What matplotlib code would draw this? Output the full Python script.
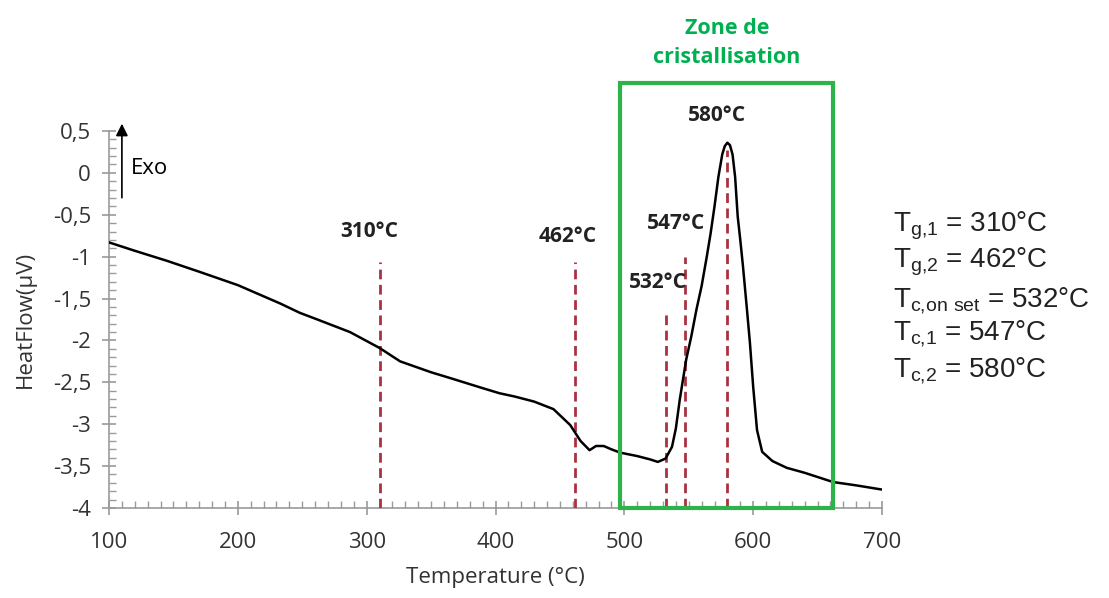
import matplotlib
matplotlib.use("Agg")
import matplotlib.pyplot as plt
from matplotlib.ticker import MultipleLocator, FuncFormatter
from matplotlib.patches import Rectangle

plt.rcParams['font.family'] = ['Open Sans', 'DejaVu Sans']
plt.rcParams['mathtext.default'] = 'regular'

# DSC curve
temp = [100, 120, 145, 170, 200, 209, 233, 248, 260, 287, 310, 326, 350, 365,
        388, 403, 415, 430, 445, 458, 466, 473, 478, 484, 490, 497, 510, 520,
        526, 532, 537, 540, 543, 548, 552, 556, 560, 564, 567, 570, 573, 576,
        578, 580, 582, 584, 586, 588, 590, 592, 595, 597.5, 600, 603, 607, 615,
        626, 640, 662, 680, 700]
heat = [-0.83, -0.93, -1.05, -1.18, -1.34, -1.40, -1.56, -1.67, -1.74, -1.90,
        -2.09, -2.25, -2.38, -2.45, -2.56, -2.63, -2.67, -2.73, -2.82, -3.01,
        -3.20, -3.31, -3.26, -3.26, -3.30, -3.34, -3.38, -3.42, -3.45, -3.41,
        -3.27, -3.05, -2.71, -2.23, -1.95, -1.63, -1.35, -1.00, -0.72, -0.40,
        -0.05, 0.22, 0.32, 0.36, 0.33, 0.22, -0.05, -0.52, -0.80, -1.10, -1.60,
        -2.03, -2.55, -3.07, -3.33, -3.44, -3.52, -3.58, -3.69, -3.73, -3.78]

marks = [310, 462, 532, 547, 580]
mark_tops = [-1.06, -1.06, -1.67, -1.0, 0.27]
mark_labels = ['310°C', '462°C', '532°C', '547°C', '580°C']
label_pos = [(302, -0.70), (456, -0.76), (526, -1.31), (540, -0.61), (572, 0.68)]

zone = (497, 662)
summary = ['T$_{g{,}1}$ = 310°C', 'T$_{g{,}2}$ = 462°C', 'T$_{c{,}on\\ set}$ = 532°C',
           'T$_{c{,}1}$ = 547°C', 'T$_{c{,}2}$ = 580°C']
summary_base = [232, 268, 307, 340, 377]

fig = plt.figure(figsize=(11.09, 5.98), dpi=100)
ax = fig.add_axes([0.0983, 0.1505, 0.6970, 0.6305])

ax.plot(temp, heat, color='black', lw=1.8, zorder=4)

for x, top in zip(marks, mark_tops):
    ax.plot([x, x], [-4, top], color='#a8323e', lw=2, ls=(0, (3.5, 2)), zorder=3)
for lab, (lx, ly) in zip(mark_labels, label_pos):
    ax.text(lx, ly, lab, fontsize=15, fontweight='bold', color='#222222',
            ha='center', va='center', zorder=5)

ax.add_patch(Rectangle((zone[0], -4), zone[1] - zone[0], 5.07, fill=False,
                       edgecolor='#2db34a', lw=3, clip_on=False, zorder=6))
ax.text((zone[0] + zone[1]) / 2, 1.55, 'Zone de\ncristallisation', color='#00b050',
        fontsize=15.5, fontweight='bold', ha='center', va='center',
        linespacing=1.45)

ax.annotate('', xy=(110, 0.62), xytext=(110, -0.33),
            arrowprops=dict(arrowstyle='-|>', color='black', lw=1.2,
                            mutation_scale=18), annotation_clip=False)
ax.text(117, 0.05, 'Exo', fontsize=16, ha='left', va='center')

for s, py in zip(summary, summary_base):
    fig.text(0.805, 1 - py / 598, s, fontsize=20, family='Liberation Sans',
             ha='left', va='baseline', color='#222222')

ax.set_xlim(100, 700)
ax.set_ylim(-4, 0.5)
ax.xaxis.set_major_locator(MultipleLocator(100))
ax.xaxis.set_minor_locator(MultipleLocator(10))
ax.yaxis.set_major_locator(MultipleLocator(0.5))
ax.yaxis.set_minor_locator(MultipleLocator(0.1))
ax.yaxis.set_major_formatter(FuncFormatter(lambda v, p: ('%g' % v).replace('.', ',')))

for s in ['top', 'right']:
    ax.spines[s].set_visible(False)
for s in ['left', 'bottom']:
    ax.spines[s].set_color('#999999')
    ax.spines[s].set_linewidth(1.2)
ax.tick_params(which='major', direction='inout', length=10, width=1.2,
               color='#999999', labelsize=16, labelcolor='#333333')
ax.tick_params(axis='x', which='major', pad=12)
ax.tick_params(axis='y', which='major', pad=8)
ax.tick_params(which='minor', direction='in', length=5, width=1, color='#999999')

ax.set_xlabel('Temperature (°C)', fontsize=16, color='#333333', labelpad=10)
ax.set_ylabel('HeatFlow(µV)', fontsize=16, color='#333333', labelpad=12)

fig.savefig('out.png', dpi=100)
